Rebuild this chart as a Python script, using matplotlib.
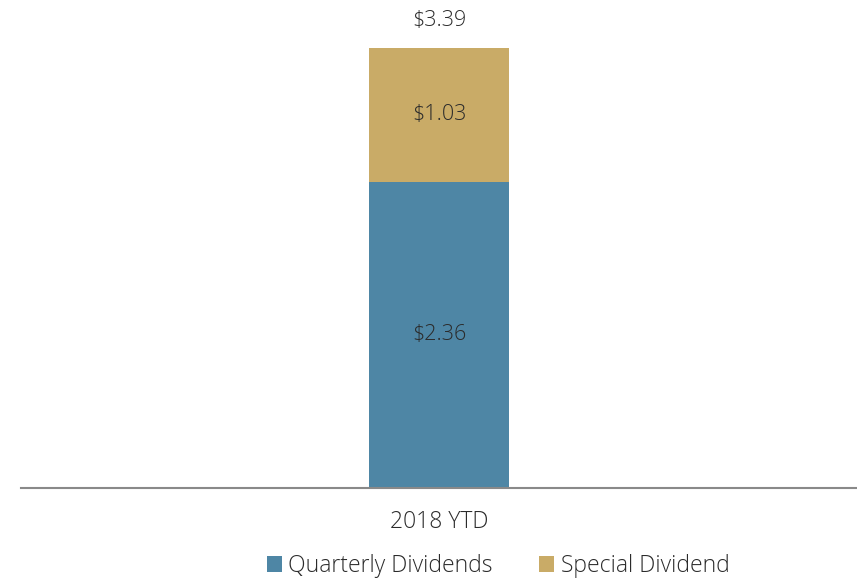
import matplotlib.pyplot as plt

# data
categories = ['2018 YTD']
quarterly = [2.36]
special = [1.03]
series_names = ['Quarterly Dividends', 'Special Dividend']

blue = '#4e86a5'
gold = '#c9ab67'
txt = '#2b2b2b'

plt.rcParams['font.family'] = ['Open Sans', 'DejaVu Sans']

fig = plt.figure(figsize=(8.57, 5.81), dpi=100)
ax = fig.add_axes([0.0245, 0.160, 0.9755, 0.840])

x = list(range(len(categories)))
b1 = ax.bar(x, quarterly, width=0.1675, color=blue, label=series_names[0])
b2 = ax.bar(x, special, width=0.1675, bottom=quarterly, color=gold, label=series_names[1])

for i in x:
    ax.text(i, quarterly[i] / 2, '$%.2f' % quarterly[i], ha='center', va='center',
            fontsize=15.5, color=txt, fontweight='light')
    ax.text(i, quarterly[i] + special[i] / 2, '$%.2f' % special[i], ha='center', va='center',
            fontsize=15.5, color=txt, fontweight='light')
    total = quarterly[i] + special[i]
    ax.annotate('$%.2f' % total, (i, total), xytext=(0, 28), textcoords='offset pixels',
                ha='center', va='center', fontsize=15.5, color=txt, fontweight='light')

ax.set_xlim(-0.5, 0.5)
ax.set_ylim(0, 3.76)
ax.set_xticks(x)
ax.set_xticklabels(categories, fontsize=16.5, color=txt, fontweight='light')
ax.tick_params(axis='x', length=0, pad=16)
ax.set_yticks([])
for s in ['top', 'right', 'left']:
    ax.spines[s].set_visible(False)
ax.spines['bottom'].set_color('#898989')
ax.spines['bottom'].set_linewidth(1.5)

leg = fig.legend(handles=[b1, b2], loc='center', bbox_to_anchor=(498 / 857, 1 - 566 / 581),
                 ncol=2, frameon=False, handlelength=0.65, handleheight=0.65,
                 handletextpad=0.3, columnspacing=2.0, prop={'weight': 'light', 'size': 16.5})
for t in leg.get_texts():
    t.set_color(txt)

fig.savefig('out.png', dpi=100)
